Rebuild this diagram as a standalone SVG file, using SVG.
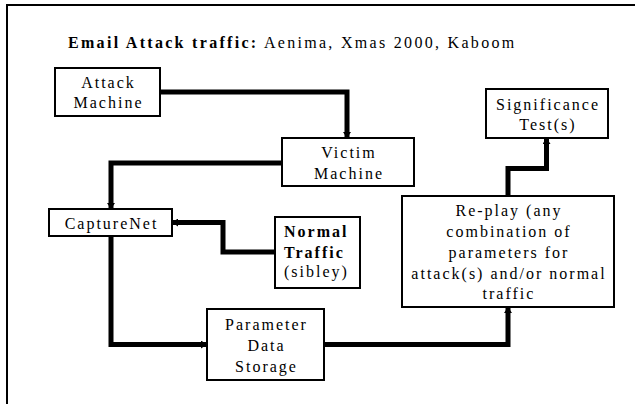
<svg xmlns="http://www.w3.org/2000/svg" width="635" height="404" viewBox="0 0 635 404">
<style>
  .box { fill: #fff; stroke: #000; stroke-width: 2; }
  .t { font-family: "Liberation Serif", "Times New Roman", serif; font-size: 16px; letter-spacing: 2px; fill: #000; }
  .c { text-anchor: middle; }
  .b { font-weight: bold; }
  .conn { fill: none; stroke: #000; stroke-width: 5; stroke-linejoin: miter; }
</style>
<defs>
  <marker id="arr" viewBox="0 0 6 8" refX="6" refY="4" markerWidth="6" markerHeight="8" markerUnits="userSpaceOnUse" orient="auto">
    <path d="M0,0 L6,4 L0,8 z" fill="#000"/>
  </marker>
</defs>
<rect width="635" height="404" fill="#fff"/>
<g id="frame">
  <line x1="6" y1="5" x2="635" y2="5" stroke="#000" stroke-width="2"/>
  <line x1="7" y1="4" x2="7" y2="404" stroke="#000" stroke-width="2"/>
</g>
<g id="title">
  <text class="t" x="68" y="48" style="letter-spacing:2.3px"><tspan class="b">Email Attack traffic:</tspan> Aenima, Xmas 2000, Kaboom</text>
</g>
<g id="connectors">
  <path class="conn" d="M160,92 H347 V138" marker-end="url(#arr)"/>
  <path class="conn" d="M282,163 H111 V209" marker-end="url(#arr)"/>
  <path class="conn" d="M275,252 H223 V222.5 H172" marker-end="url(#arr)"/>
  <path class="conn" d="M111,236 V344.5 H207" marker-end="url(#arr)"/>
  <path class="conn" d="M324,344.5 H508 V307" marker-end="url(#arr)"/>
  <path class="conn" d="M508,196 V168.5 H546.5 V138" marker-end="url(#arr)"/>
</g>
<g id="attack-machine">
  <rect class="box" x="55" y="68" width="105" height="48"/>
  <text class="t c" x="108.5" y="88">Attack</text>
  <text class="t c" x="108.5" y="108">Machine</text>
</g>
<g id="victim-machine">
  <rect class="box" x="282" y="138" width="132" height="48"/>
  <text class="t c" x="349" y="158">Victim</text>
  <text class="t c" x="349" y="179">Machine</text>
</g>
<g id="significance-test">
  <rect class="box" x="486" y="89" width="122" height="49"/>
  <text class="t c" x="548" y="110">Significance</text>
  <text class="t c" x="548" y="130">Test(s)</text>
</g>
<g id="capturenet">
  <rect class="box" x="49" y="209" width="123" height="27"/>
  <text class="t c" x="111.5" y="229">CaptureNet</text>
</g>
<g id="normal-traffic">
  <rect class="box" x="275" y="217" width="85" height="71"/>
  <text class="t b" x="284" y="237">Normal</text>
  <text class="t b" x="284" y="258">Traffic</text>
  <text class="t" x="284" y="277">(sibley)</text>
</g>
<g id="parameter-data-storage">
  <rect class="box" x="207" y="309" width="117" height="71"/>
  <text class="t c" x="266.5" y="330">Parameter</text>
  <text class="t c" x="266.5" y="351">Data</text>
  <text class="t c" x="266.5" y="372">Storage</text>
</g>
<g id="replay">
  <rect class="box" x="402" y="196" width="212" height="111"/>
  <text class="t c" x="509" y="216">Re-play (any</text>
  <text class="t c" x="509" y="237">combination of</text>
  <text class="t c" x="509" y="258">parameters for</text>
  <text class="t c" x="509" y="279">attack(s) and/or normal</text>
  <text class="t c" x="509" y="299">traffic</text>
</g>
</svg>
